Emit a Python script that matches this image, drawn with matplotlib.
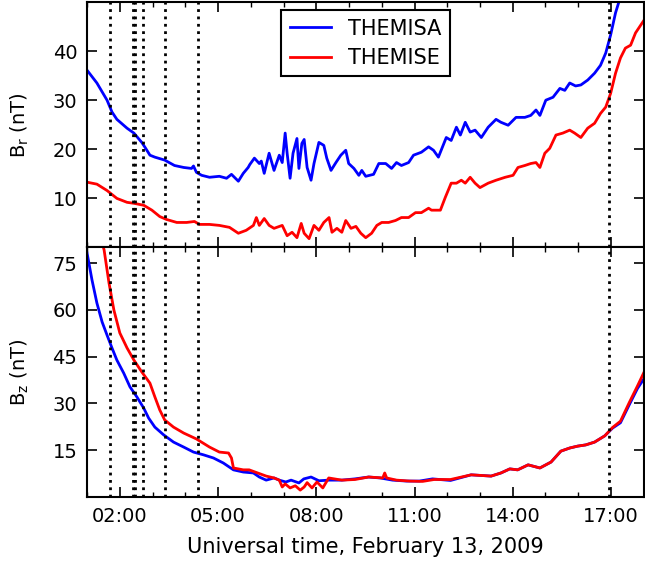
import matplotlib
matplotlib.use("Agg")
import matplotlib.pyplot as plt
from matplotlib.ticker import FuncFormatter, MultipleLocator

# Universal time in decimal hours, field in nT
br_a_t = [1.00, 1.30, 1.61, 1.76, 1.91, 2.22, 2.43, 2.67, 2.77, 2.92, 3.07, 3.37, 3.67, 3.95,
          4.19, 4.25, 4.34, 4.50, 4.74, 5.04, 5.26, 5.41, 5.62, 5.77, 5.92, 5.97, 6.11, 6.26,
          6.32, 6.41, 6.56, 6.71, 6.87, 6.96, 7.05, 7.11, 7.20, 7.29, 7.41, 7.47, 7.56, 7.63,
          7.72, 7.84, 7.93, 8.08, 8.23, 8.32, 8.45, 8.60, 8.75, 8.90, 8.99, 9.15, 9.30, 9.39,
          9.51, 9.75, 9.91, 10.12, 10.30, 10.45, 10.60, 10.82, 10.97, 11.21, 11.43, 11.58,
          11.73, 11.97, 12.12, 12.28, 12.40, 12.55, 12.70, 12.85, 13.04, 13.25, 13.49, 13.64,
          13.86, 14.10, 14.37, 14.55, 14.71, 14.83, 15.01, 15.23, 15.44, 15.59, 15.74, 15.92,
          16.08, 16.29, 16.50, 16.68, 16.84, 16.99, 17.14, 17.26, 17.50, 18.00]
br_a = [36.1, 33.5, 30.0, 27.6, 26.1, 24.3, 23.3, 21.4, 20.4, 18.8, 18.4, 17.8, 16.7, 16.3,
        16.1, 16.6, 15.3, 14.7, 14.3, 14.5, 14.1, 14.9, 13.5, 15.1, 16.3, 16.9, 18.2, 17.1,
        17.6, 15.1, 19.2, 15.7, 18.8, 17.3, 23.3, 19.2, 14.1, 19.2, 22.2, 16.1, 21.2, 22.0,
        16.3, 13.7, 17.1, 21.4, 20.8, 18.2, 15.7, 17.3, 18.8, 19.8, 17.1, 16.1, 14.7, 15.7,
        14.5, 14.9, 17.1, 17.1, 16.1, 17.3, 16.7, 17.3, 18.8, 19.4, 20.5, 19.8, 18.4, 22.4,
        21.8, 24.5, 22.9, 25.5, 23.5, 23.9, 22.4, 24.5, 26.1, 25.5, 24.9, 26.5, 26.5, 26.9,
        28.0, 26.9, 30.0, 30.6, 32.4, 32.0, 33.5, 32.9, 33.1, 34.1, 35.5, 37.1, 39.6, 43.3,
        47.8, 50.4, 56.0, 66.0]

br_e_t = [1.00, 1.30, 1.61, 1.91, 2.22, 2.43, 2.73, 2.98, 3.22, 3.43, 3.74, 4.04, 4.28, 4.43,
          4.74, 5.04, 5.35, 5.62, 5.86, 6.08, 6.17, 6.26, 6.41, 6.56, 6.71, 6.96, 7.11, 7.26,
          7.41, 7.54, 7.63, 7.78, 7.93, 8.08, 8.23, 8.39, 8.48, 8.63, 8.78, 8.90, 9.06, 9.21,
          9.36, 9.51, 9.69, 9.85, 10.00, 10.21, 10.42, 10.60, 10.82, 11.03, 11.21, 11.43, 11.52,
          11.79, 11.94, 12.12, 12.28, 12.43, 12.55, 12.70, 12.85, 13.00, 13.25, 13.49, 13.77,
          14.01, 14.16, 14.37, 14.55, 14.71, 14.83, 14.98, 15.13, 15.32, 15.53, 15.74, 15.89,
          16.08, 16.29, 16.50, 16.68, 16.84, 16.99, 17.14, 17.29, 17.44, 17.60, 17.75, 18.00]
br_e = [13.3, 12.9, 11.6, 10.0, 9.2, 9.0, 8.6, 7.6, 6.3, 5.7, 5.1, 5.1, 5.3, 4.7,
        4.7, 4.5, 4.1, 2.9, 3.5, 4.5, 6.1, 4.5, 5.9, 4.5, 3.9, 4.5, 2.4, 3.1,
        2.0, 4.9, 2.9, 1.8, 4.5, 3.5, 5.1, 6.1, 3.1, 3.9, 3.1, 5.5, 3.9, 4.3,
        2.9, 2.0, 2.9, 4.5, 5.1, 5.1, 5.5, 6.1, 6.1, 7.1, 7.1, 8.0, 7.6,
        7.6, 10.2, 13.1, 13.1, 13.7, 13.1, 14.3, 13.1, 12.2, 13.1, 13.7, 14.3,
        14.7, 16.3, 16.7, 17.1, 17.3, 16.3, 19.2, 20.2, 22.9, 23.3, 23.9, 23.3,
        22.4, 24.3, 25.3, 27.3, 28.6, 31.4, 35.5, 38.6, 40.6, 41.2, 43.7, 46.2]

bz_a_t = [1.00, 1.15, 1.30, 1.46, 1.61, 1.76, 1.91, 2.12, 2.31, 2.52, 2.73, 2.88, 3.07, 3.34,
          3.64, 3.95, 4.25, 4.56, 4.86, 5.16, 5.47, 5.77, 6.08, 6.26, 6.47, 6.71, 6.87, 7.07,
          7.23, 7.47, 7.62, 7.84, 8.08, 8.38, 8.78, 9.18, 9.60, 9.95, 10.33, 10.76, 11.15, 11.55,
          12.10, 12.73, 13.34, 13.64, 13.91, 14.15, 14.47, 14.83, 15.17, 15.47, 15.74, 15.98,
          16.23, 16.50, 16.81, 17.05, 17.29, 17.56, 17.81, 18.00]
bz_a = [78.2, 69.6, 62.2, 56.1, 51.9, 47.8, 43.9, 39.7, 35.3, 32.1, 28.5, 25.3, 22.4, 19.9,
        17.6, 16.0, 14.4, 13.5, 12.5, 10.9, 8.7, 8.0, 7.7, 6.4, 5.4, 6.1, 5.4, 4.8,
        5.4, 4.5, 5.8, 6.4, 5.2, 5.4, 5.4, 5.8, 6.4, 6.1, 5.4, 5.1, 5.1, 5.8,
        5.3, 7.1, 6.7, 7.7, 9.0, 8.7, 10.3, 9.3, 11.2, 14.7, 15.7, 16.3,
        16.7, 17.6, 19.6, 22.1, 23.8, 29.6, 34.8, 37.8]

bz_e_t = [1.40, 1.52, 1.67, 1.82, 2.00, 2.22, 2.43, 2.67, 2.92, 3.07, 3.22, 3.37, 3.64, 3.95,
          4.34, 4.74, 5.04, 5.32, 5.41, 5.47, 5.77, 5.95, 6.47, 6.71, 6.87, 6.96, 7.05, 7.20,
          7.36, 7.51, 7.63, 7.72, 7.87, 8.02, 8.20, 8.38, 8.78, 9.18, 9.60, 10.03, 10.09, 10.15,
          10.45, 10.85, 11.25, 11.60, 12.10, 12.73, 13.34, 13.64, 13.91, 14.15, 14.47, 14.83,
          15.17, 15.47, 15.74, 15.98, 16.23, 16.50, 16.81, 17.05, 17.29, 17.56, 17.81, 18.00]
bz_e = [84.0, 79.2, 68.6, 59.9, 52.6, 47.8, 43.9, 40.1, 36.5, 32.1, 27.9, 24.7, 22.4, 20.5,
        18.6, 16.0, 14.4, 14.1, 12.5, 9.3, 8.7, 8.7, 6.7, 6.1, 5.4, 3.2, 4.2, 2.9,
        3.6, 2.2, 3.2, 4.6, 2.9, 4.8, 2.9, 6.1, 5.4, 5.6, 6.4, 6.1, 7.7, 6.1,
        5.4, 5.1, 5.0, 5.6, 5.6, 7.1, 6.7, 7.7, 9.0, 8.7, 10.3, 9.3,
        11.2, 14.7, 15.7, 16.3, 16.7, 17.6, 19.6, 22.3, 24.3, 30.3, 35.6, 39.8]

event_t = [1.70, 2.41, 2.46, 2.72, 3.37, 4.39, 16.93]
hour_ticks = [2, 5, 8, 11, 14, 17]

series = ["THEMISA", "THEMISE"]
colors = ["blue", "red"]

plt.rcParams["font.family"] = ["DejaVu Sans"]
plt.rcParams["mathtext.default"] = "regular"
plt.rcParams["font.size"] = 14

fig = plt.figure(figsize=(6.45, 5.67), dpi=100)
ax1 = fig.add_axes([0.135, 0.5635, 0.863, 0.433])
ax2 = fig.add_axes([0.135, 0.1235, 0.863, 0.440], sharex=ax1)

ax1.plot(br_a_t, br_a, color=colors[0], lw=2, label=series[0])
ax1.plot(br_e_t, br_e, color=colors[1], lw=2, label=series[1])
ax2.plot(bz_a_t, bz_a, color=colors[0], lw=2)
ax2.plot(bz_e_t, bz_e, color=colors[1], lw=2)

for ax in (ax1, ax2):
    for t in event_t:
        ax.axvline(t, color="black", ls=":", lw=2)
    for s in ax.spines.values():
        s.set_linewidth(1.5)
    ax.tick_params(which="both", direction="in", top=True, right=True, labelsize=14, pad=7)
    ax.tick_params(which="major", length=7.5, width=1.2)
    ax.tick_params(which="minor", length=3.5, width=1.0)
    ax.yaxis.set_label_coords(-0.10, 0.5)

ax1.set_xlim(1, 18)
ax1.set_xticks(hour_ticks)
ax1.xaxis.set_minor_locator(MultipleLocator(1))
ax1.set_ylim(0, 50)
ax1.set_yticks([10, 20, 30, 40])
ax2.set_ylim(0, 80)
ax2.set_yticks([15, 30, 45, 60, 75])
ax2.xaxis.set_major_formatter(FuncFormatter(lambda v, p: f"{int(round(v)):02d}:00"))
plt.setp(ax1.get_xticklabels(), visible=False)

ax1.set_ylabel("B$_r$ (nT)", fontsize=14)
ax2.set_ylabel("B$_z$ (nT)", fontsize=14)
ax2.set_xlabel("Universal time, February 13, 2009", fontsize=15, labelpad=8)

leg = ax1.legend(loc="upper center", fontsize=15, fancybox=False, framealpha=1,
                 handlelength=2.0, borderaxespad=0.4, labelspacing=0.45)
leg.get_frame().set_edgecolor("black")
leg.get_frame().set_linewidth(1.5)

fig.savefig("out.png", dpi=100)
